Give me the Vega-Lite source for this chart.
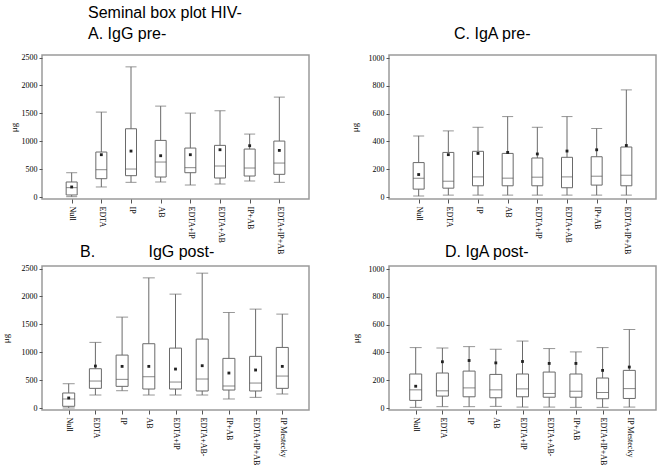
{
  "$schema": "https://vega.github.io/schema/vega-lite/v6.json",
  "title": {"text": "Seminal box plot HIV-", "anchor": "start", "frame": "group", "dx": 46, "offset": 4},
  "padding": {"left": 0, "top": 4, "right": 5, "bottom": 2},
  "bounds": "flush",
  "columns": 2,
  "spacing": {"row": 67, "column": 80},
  "datasets": {
    "iggpre": [
      {"group": "Null", "min": 12, "q1": 42, "median": 173, "q3": 274, "max": 440, "mean": 185},
      {"group": "EDTA", "min": 185, "q1": 333, "median": 494, "q3": 810, "max": 1524, "mean": 762},
      {"group": "IP", "min": 268, "q1": 387, "median": 506, "q3": 1226, "max": 2333, "mean": 827},
      {"group": "AB", "min": 274, "q1": 363, "median": 631, "q3": 1018, "max": 1631, "mean": 744},
      {"group": "EDTA+IP", "min": 220, "q1": 440, "median": 530, "q3": 881, "max": 1506, "mean": 762},
      {"group": "EDTA+AB", "min": 238, "q1": 345, "median": 560, "q3": 929, "max": 1548, "mean": 851},
      {"group": "IP+AB", "min": 292, "q1": 381, "median": 524, "q3": 863, "max": 1131, "mean": 923},
      {"group": "EDTA+IP+AB", "min": 268, "q1": 411, "median": 613, "q3": 1006, "max": 1792, "mean": 839}
    ],
    "igapre": [
      {"group": "Null", "min": 7, "q1": 57, "median": 136, "q3": 248, "max": 440, "mean": 162},
      {"group": "EDTA", "min": 14, "q1": 64, "median": 114, "q3": 321, "max": 476, "mean": 305},
      {"group": "IP", "min": 14, "q1": 81, "median": 145, "q3": 329, "max": 502, "mean": 314},
      {"group": "AB", "min": 14, "q1": 81, "median": 136, "q3": 314, "max": 579, "mean": 321},
      {"group": "EDTA+IP", "min": 14, "q1": 81, "median": 143, "q3": 281, "max": 502, "mean": 310},
      {"group": "EDTA+AB", "min": 14, "q1": 67, "median": 145, "q3": 286, "max": 579, "mean": 331},
      {"group": "IP+AB", "min": 14, "q1": 86, "median": 150, "q3": 290, "max": 493, "mean": 340},
      {"group": "EDTA+IP+AB", "min": 14, "q1": 81, "median": 157, "q3": 360, "max": 771, "mean": 371}
    ],
    "iggpost": [
      {"group": "Null", "min": 6, "q1": 36, "median": 167, "q3": 274, "max": 440, "mean": 185},
      {"group": "EDTA", "min": 238, "q1": 357, "median": 488, "q3": 708, "max": 1179, "mean": 756},
      {"group": "IP", "min": 315, "q1": 393, "median": 518, "q3": 952, "max": 1631, "mean": 750},
      {"group": "AB", "min": 238, "q1": 345, "median": 565, "q3": 1155, "max": 2333, "mean": 750},
      {"group": "EDTA+IP", "min": 238, "q1": 345, "median": 470, "q3": 1077, "max": 2042, "mean": 702},
      {"group": "EDTA+AB-", "min": 238, "q1": 310, "median": 524, "q3": 1238, "max": 2417, "mean": 762},
      {"group": "IP+AB", "min": 167, "q1": 327, "median": 399, "q3": 893, "max": 1714, "mean": 631},
      {"group": "EDTA+IP+AB", "min": 196, "q1": 310, "median": 452, "q3": 929, "max": 1774, "mean": 685},
      {"group": "IP Mestecky", "min": 256, "q1": 357, "median": 577, "q3": 1089, "max": 1685, "mean": 750}
    ],
    "igapost": [
      {"group": "Null", "min": 5, "q1": 55, "median": 131, "q3": 245, "max": 435, "mean": 157},
      {"group": "EDTA", "min": 10, "q1": 86, "median": 124, "q3": 252, "max": 432, "mean": 333},
      {"group": "IP", "min": 10, "q1": 81, "median": 145, "q3": 266, "max": 442, "mean": 342},
      {"group": "AB", "min": 12, "q1": 74, "median": 131, "q3": 242, "max": 423, "mean": 325},
      {"group": "EDTA+IP", "min": 7, "q1": 81, "median": 138, "q3": 245, "max": 482, "mean": 335},
      {"group": "EDTA+AB-", "min": 7, "q1": 78, "median": 105, "q3": 259, "max": 428, "mean": 321},
      {"group": "IP+AB", "min": 5, "q1": 78, "median": 121, "q3": 245, "max": 404, "mean": 321},
      {"group": "EDTA+IP+AB", "min": 5, "q1": 67, "median": 112, "q3": 216, "max": 435, "mean": 271},
      {"group": "IP Mestecky", "min": 7, "q1": 69, "median": 140, "q3": 271, "max": 565, "mean": 295}
    ]
  },
  "concat": [
    {
      "data": {"name": "iggpre"},
      "width": 267, "height": 144,
      "title": {"text": "A. IgG pre-", "anchor": "start", "frame": "group", "dx": 46, "offset": 12},
      "encoding": {"x": {"field": "group", "type": "nominal", "sort": null, "title": null, "scale": {"type": "point", "padding": 1}}},
      "layer": [
        {"mark": {"type": "rule", "color": "#6a6a6a"}, "encoding": {"y": {"field": "min", "type": "quantitative", "title": "μg", "scale": {"domain": [-30, 2545], "nice": false, "zero": false}, "axis": {"values": [0, 500, 1000, 1500, 2000, 2500], "format": "d", "titleX": -29}}, "y2": {"field": "max"}}},
        {"mark": {"type": "bar", "fill": "white", "stroke": "#6a6a6a", "strokeWidth": 1, "size": 11}, "encoding": {"y": {"field": "q1", "type": "quantitative", "title": "μg", "axis": {"values": [0, 500, 1000, 1500, 2000, 2500], "format": "d", "titleX": -29}}, "y2": {"field": "q3"}}},
        {"mark": {"type": "tick", "color": "#555", "size": 11, "thickness": 1}, "encoding": {"y": {"field": "median", "type": "quantitative", "title": "μg", "axis": {"values": [0, 500, 1000, 1500, 2000, 2500], "format": "d", "titleX": -29}}}},
        {"mark": {"type": "tick", "color": "#6a6a6a", "size": 11, "thickness": 1}, "encoding": {"y": {"field": "min", "type": "quantitative", "title": "μg", "axis": {"values": [0, 500, 1000, 1500, 2000, 2500], "format": "d", "titleX": -29}}}},
        {"mark": {"type": "tick", "color": "#6a6a6a", "size": 11, "thickness": 1}, "encoding": {"y": {"field": "max", "type": "quantitative", "title": "μg", "axis": {"values": [0, 500, 1000, 1500, 2000, 2500], "format": "d", "titleX": -29}}}},
        {"mark": {"type": "square", "color": "#222", "size": 8, "opacity": 1}, "encoding": {"y": {"field": "mean", "type": "quantitative", "title": "μg", "axis": {"values": [0, 500, 1000, 1500, 2000, 2500], "format": "d", "titleX": -29}}}}
      ]
    },
    {
      "data": {"name": "igapre"},
      "width": 267, "height": 144,
      "title": {"text": "C. IgA pre-", "anchor": "start", "frame": "group", "dx": 65, "offset": 12},
      "encoding": {"x": {"field": "group", "type": "nominal", "sort": null, "title": null, "scale": {"type": "point", "padding": 1}}},
      "layer": [
        {"mark": {"type": "rule", "color": "#6a6a6a"}, "encoding": {"y": {"field": "min", "type": "quantitative", "title": "μg", "scale": {"domain": [-14, 1022], "nice": false, "zero": false}, "axis": {"values": [0, 200, 400, 600, 800, 1000], "format": "d", "titleX": -35}}, "y2": {"field": "max"}}},
        {"mark": {"type": "bar", "fill": "white", "stroke": "#6a6a6a", "strokeWidth": 1, "size": 11}, "encoding": {"y": {"field": "q1", "type": "quantitative", "title": "μg", "axis": {"values": [0, 200, 400, 600, 800, 1000], "format": "d", "titleX": -35}}, "y2": {"field": "q3"}}},
        {"mark": {"type": "tick", "color": "#555", "size": 11, "thickness": 1}, "encoding": {"y": {"field": "median", "type": "quantitative", "title": "μg", "axis": {"values": [0, 200, 400, 600, 800, 1000], "format": "d", "titleX": -35}}}},
        {"mark": {"type": "tick", "color": "#6a6a6a", "size": 11, "thickness": 1}, "encoding": {"y": {"field": "min", "type": "quantitative", "title": "μg", "axis": {"values": [0, 200, 400, 600, 800, 1000], "format": "d", "titleX": -35}}}},
        {"mark": {"type": "tick", "color": "#6a6a6a", "size": 11, "thickness": 1}, "encoding": {"y": {"field": "max", "type": "quantitative", "title": "μg", "axis": {"values": [0, 200, 400, 600, 800, 1000], "format": "d", "titleX": -35}}}},
        {"mark": {"type": "square", "color": "#222", "size": 8, "opacity": 1}, "encoding": {"y": {"field": "mean", "type": "quantitative", "title": "μg", "axis": {"values": [0, 200, 400, 600, 800, 1000], "format": "d", "titleX": -35}}}}
      ]
    },
    {
      "data": {"name": "iggpost"},
      "width": 267, "height": 144,
      "title": {"text": "B.\u00a0\u00a0\u00a0\u00a0\u00a0\u00a0\u00a0\u00a0\u00a0\u00a0\u00a0\u00a0IgG post-", "anchor": "start", "frame": "group", "dx": 38, "offset": 5},
      "encoding": {"x": {"field": "group", "type": "nominal", "sort": null, "title": null, "scale": {"type": "point", "padding": 1}}},
      "layer": [
        {"mark": {"type": "rule", "color": "#6a6a6a"}, "encoding": {"y": {"field": "min", "type": "quantitative", "title": "μg", "scale": {"domain": [-30, 2545], "nice": false, "zero": false}, "axis": {"values": [0, 500, 1000, 1500, 2000, 2500], "format": "d", "titleX": -37}}, "y2": {"field": "max"}}},
        {"mark": {"type": "bar", "fill": "white", "stroke": "#6a6a6a", "strokeWidth": 1, "size": 12}, "encoding": {"y": {"field": "q1", "type": "quantitative", "title": "μg", "axis": {"values": [0, 500, 1000, 1500, 2000, 2500], "format": "d", "titleX": -37}}, "y2": {"field": "q3"}}},
        {"mark": {"type": "tick", "color": "#555", "size": 12, "thickness": 1}, "encoding": {"y": {"field": "median", "type": "quantitative", "title": "μg", "axis": {"values": [0, 500, 1000, 1500, 2000, 2500], "format": "d", "titleX": -37}}}},
        {"mark": {"type": "tick", "color": "#6a6a6a", "size": 12, "thickness": 1}, "encoding": {"y": {"field": "min", "type": "quantitative", "title": "μg", "axis": {"values": [0, 500, 1000, 1500, 2000, 2500], "format": "d", "titleX": -37}}}},
        {"mark": {"type": "tick", "color": "#6a6a6a", "size": 12, "thickness": 1}, "encoding": {"y": {"field": "max", "type": "quantitative", "title": "μg", "axis": {"values": [0, 500, 1000, 1500, 2000, 2500], "format": "d", "titleX": -37}}}},
        {"mark": {"type": "square", "color": "#222", "size": 8, "opacity": 1}, "encoding": {"y": {"field": "mean", "type": "quantitative", "title": "μg", "axis": {"values": [0, 500, 1000, 1500, 2000, 2500], "format": "d", "titleX": -37}}}}
      ]
    },
    {
      "data": {"name": "igapost"},
      "width": 267, "height": 144,
      "title": {"text": "D. IgA post-", "anchor": "start", "frame": "group", "dx": 56, "offset": 5},
      "encoding": {"x": {"field": "group", "type": "nominal", "sort": null, "title": null, "scale": {"type": "point", "padding": 1}}},
      "layer": [
        {"mark": {"type": "rule", "color": "#6a6a6a"}, "encoding": {"y": {"field": "min", "type": "quantitative", "title": "μg", "scale": {"domain": [-14, 1022], "nice": false, "zero": false}, "axis": {"values": [0, 200, 400, 600, 800, 1000], "format": "d", "titleX": -34}}, "y2": {"field": "max"}}},
        {"mark": {"type": "bar", "fill": "white", "stroke": "#6a6a6a", "strokeWidth": 1, "size": 12}, "encoding": {"y": {"field": "q1", "type": "quantitative", "title": "μg", "axis": {"values": [0, 200, 400, 600, 800, 1000], "format": "d", "titleX": -34}}, "y2": {"field": "q3"}}},
        {"mark": {"type": "tick", "color": "#555", "size": 12, "thickness": 1}, "encoding": {"y": {"field": "median", "type": "quantitative", "title": "μg", "axis": {"values": [0, 200, 400, 600, 800, 1000], "format": "d", "titleX": -34}}}},
        {"mark": {"type": "tick", "color": "#6a6a6a", "size": 12, "thickness": 1}, "encoding": {"y": {"field": "min", "type": "quantitative", "title": "μg", "axis": {"values": [0, 200, 400, 600, 800, 1000], "format": "d", "titleX": -34}}}},
        {"mark": {"type": "tick", "color": "#6a6a6a", "size": 12, "thickness": 1}, "encoding": {"y": {"field": "max", "type": "quantitative", "title": "μg", "axis": {"values": [0, 200, 400, 600, 800, 1000], "format": "d", "titleX": -34}}}},
        {"mark": {"type": "square", "color": "#222", "size": 8, "opacity": 1}, "encoding": {"y": {"field": "mean", "type": "quantitative", "title": "μg", "axis": {"values": [0, 200, 400, 600, 800, 1000], "format": "d", "titleX": -34}}}}
      ]
    }
  ],
  "config": {
    "font": "Liberation Sans",
    "background": "white",
    "view": {"stroke": "#9a9a9a", "strokeWidth": 1.5},
    "axis": {"grid": false, "domain": false, "labelFont": "Liberation Serif", "labelFontSize": 8, "labelColor": "#000", "tickColor": "#555", "tickSize": 3, "titleFont": "Liberation Serif", "titleFontSize": 9, "titleFontWeight": "normal", "titleColor": "#000"},
    "axisY": {"titleBaseline": "middle", "labelPadding": 2},
    "axisX": {"labelAngle": 90, "labelPadding": 3, "tickSize": 4},
    "title": {"font": "Liberation Sans", "fontSize": 16, "fontWeight": "normal", "color": "#000"}
  }
}
